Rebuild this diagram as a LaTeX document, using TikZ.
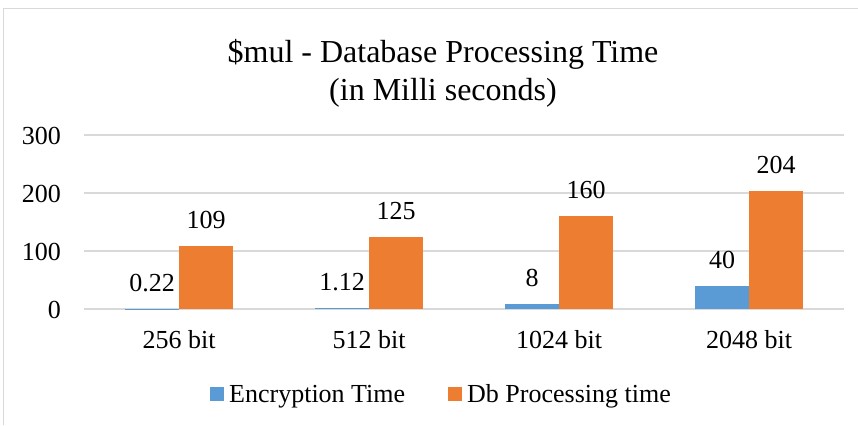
\documentclass[tikz,border=0pt]{standalone}
\usepackage{fontspec}
\setmainfont{Liberation Serif}
\usepackage{tikz}
\usetikzlibrary{positioning}
\definecolor{encblue}{HTML}{5B9BD5}
\definecolor{dborange}{HTML}{ED7D31}
\definecolor{gridgray}{HTML}{D9D9D9}
\tikzstyle{gridline}=[%
      draw=gridgray, line width=1.2pt
]
\tikzstyle{encbar}=[%
      fill=encblue, draw=none
]
\tikzstyle{dbbar}=[%
      fill=dborange, draw=none
]
\tikzstyle{lbl}=[%
      inner sep=0pt, font=\fontsize{26}{31}\selectfont
]
\tikzstyle{ttl}=[%
      inner sep=0pt, font=\fontsize{32}{38}\selectfont
]

\begin{document}
\begin{tikzpicture}[x=1pt, y=-1pt]
    \useasboundingbox (0,0) rectangle (858,425);
    % chart frame (left and top edges only are visible)
    \draw[gridgray, line width=1.2pt] (3.5,425) |- (858,8.5);

    % title
    \node[ttl, anchor=base] (title)    at (443,63)  {\$mul - Database Processing Time};
    \node[ttl, anchor=base] (subtitle) at (443,100) {(in Milli seconds)};

    % value axis
    \foreach \v/\y in {0/309, 100/251, 200/193, 300/135} {
      \draw[gridline] (84,\y) -- (844,\y);
      \node[lbl, anchor=base east] (tick\v) at (61,\y+9) {\v};
    }

    % bars
    \foreach \i/\cat/\enc/\db in {0/256/0.22/109, 1/512/1.12/125, 2/1024/8/160, 3/2048/40/204} {
      \pgfmathsetmacro{\cx}{179+190*\i}
      \path[encbar] (\cx-54,309) rectangle (\cx,309-0.58*\enc);
      \path[dbbar]  (\cx,309) rectangle (\cx+54,309-0.58*\db);
      \node[lbl, anchor=base] (enc\cat) at (\cx-27,309-0.58*\enc-17.5) {\enc};
      \node[lbl, anchor=base] (db\cat)  at (\cx+27,309-0.58*\db-17.5)  {\db};
      \node[lbl, anchor=base] (cat\cat) at (\cx,348) {\cat\ bit};
    }

    % legend
    \path[encbar] (210,387) rectangle (224,401);
    \node[lbl, anchor=base west] (legenc) at (229,402) {Encryption Time};
    \path[dbbar]  (448,387) rectangle (462,401);
    \node[lbl, anchor=base west] (legdb)  at (467,402) {Db Processing time};
\end{tikzpicture}
\end{document}
